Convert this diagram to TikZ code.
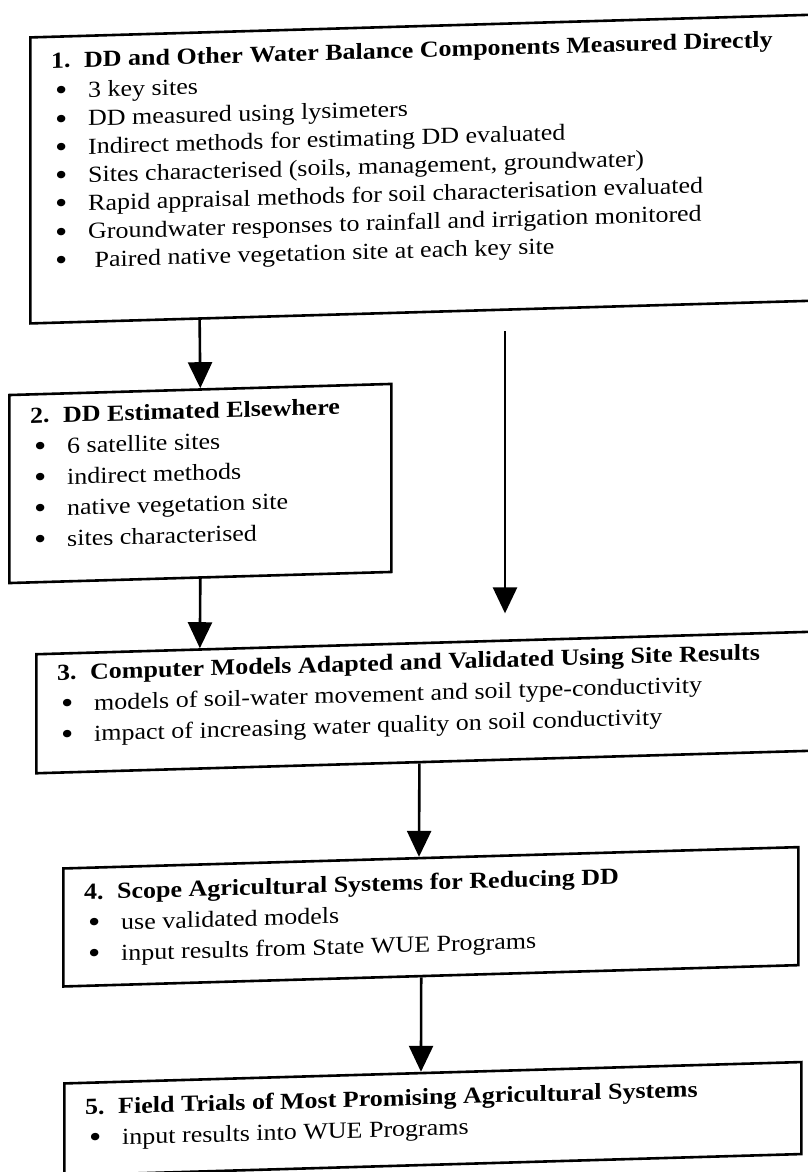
\documentclass[tikz,border=0pt]{standalone}
\usepackage{fontspec}
\setmainfont{Liberation Serif}[FakeStretch=1.13]
\usetikzlibrary{positioning, calc, arrows.meta}

\newcommand{\stagehead}[2]{\strut\textbf{\makebox[33pt][l]{#1}#2}}
\newcommand{\stageitem}[1]{\hspace*{4pt}\makebox[33pt][l]{\raisebox{-0.1em}{\fontsize{31}{31}\selectfont\textbullet}}#1}

\begin{document}
\begin{tikzpicture}[x=1pt, y=-1pt,
    stage/.style={rectangle, draw=black, line width=2.6pt, fill=none,
        inner sep=0pt, anchor=north west},
    stagetext/.style={rectangle, draw=none, fill=none, inner sep=0pt,
        align=left, text=black, font=\fontsize{23}{31}\selectfont},
    flow/.style={line width=2.6pt, -{Triangle[width=24pt, length=26pt]}}
]
\useasboundingbox (0,0) rectangle (808,1172);
\clip (0,0) rectangle (808,1172);
% the scanned page is slightly skewed
\begin{scope}[yslant=0.029, transform shape]
\node (S1) [stage, minimum width=791pt, minimum height=286pt] at (29,37) {};
\node (S2) [stage, minimum width=382pt, minimum height=188pt] at (8,394) {};
\node (S3) [stage, minimum width=790pt, minimum height=119pt] at (35,654) {};
\node (S4) [stage, minimum width=735pt, minimum height=118pt] at (62,869) {};
\node (S5) [stage, minimum width=737pt, minimum height=92pt] at (63,1084) {};

\node (T1) [stagetext, font=\fontsize{23}{28.3}\selectfont,
    below right=12.7pt and 22pt of S1.north west] {%
    \stagehead{1.}{DD and Other Water Balance Components Measured Directly}\\[2pt]
    \stageitem{3 key sites}\\
    \stageitem{DD measured using lysimeters}\\
    \stageitem{Indirect methods for estimating DD evaluated}\\
    \stageitem{Sites characterised (soils, management, groundwater)}\\
    \stageitem{Rapid appraisal methods for soil characterisation evaluated}\\
    \stageitem{Groundwater responses to rainfall and irrigation monitored}\\
    \stageitem{\ Paired native vegetation site at each key site}};
\node (T2) [stagetext, below right=8.3pt and 22pt of S2.north west] {%
    \stagehead{2.}{DD Estimated Elsewhere}\\
    \stageitem{6 satellite sites}\\
    \stageitem{indirect methods}\\
    \stageitem{native vegetation site}\\
    \stageitem{sites characterised}};
\node (T3) [stagetext, below right=5.9pt and 22pt of S3.north west] {%
    \stagehead{3.}{Computer Models Adapted and Validated Using Site Results}\\
    \stageitem{models of soil-water movement and soil type-conductivity}\\
    \stageitem{impact of increasing water quality on soil conductivity}};
\node (T4) [stagetext, below right=11.3pt and 22pt of S4.north west] {%
    \stagehead{4.}{Scope Agricultural Systems for Reducing DD}\\
    \stageitem{use validated models}\\
    \stageitem{input results from State WUE Programs}};
\node (T5) [stagetext, below right=11.3pt and 22pt of S5.north west] {%
    \stagehead{5.}{Field Trials of Most Promising Agricultural Systems}\\
    \stageitem{input results into WUE Programs}};

% connectors
\draw[flow] ($(S1.south west)!0.215!(S1.south east)$) -- (S2.north);
\draw[flow] (S2.south) -- ($(S3.north west)!0.208!(S3.north east)$);
\draw[flow] ($(S3.south west)!0.485!(S3.south east)$) -- ($(S4.north west)!0.484!(S4.north east)$);
\draw[flow] ($(S4.south west)!0.487!(S4.south east)$) -- ($(S5.north west)!0.484!(S5.north east)$);
\coordinate (F0) at (505,346);
\coordinate (F1) at (505,628);
\draw[flow] (F0) -- (F1);
\end{scope}
\end{tikzpicture}
\end{document}
